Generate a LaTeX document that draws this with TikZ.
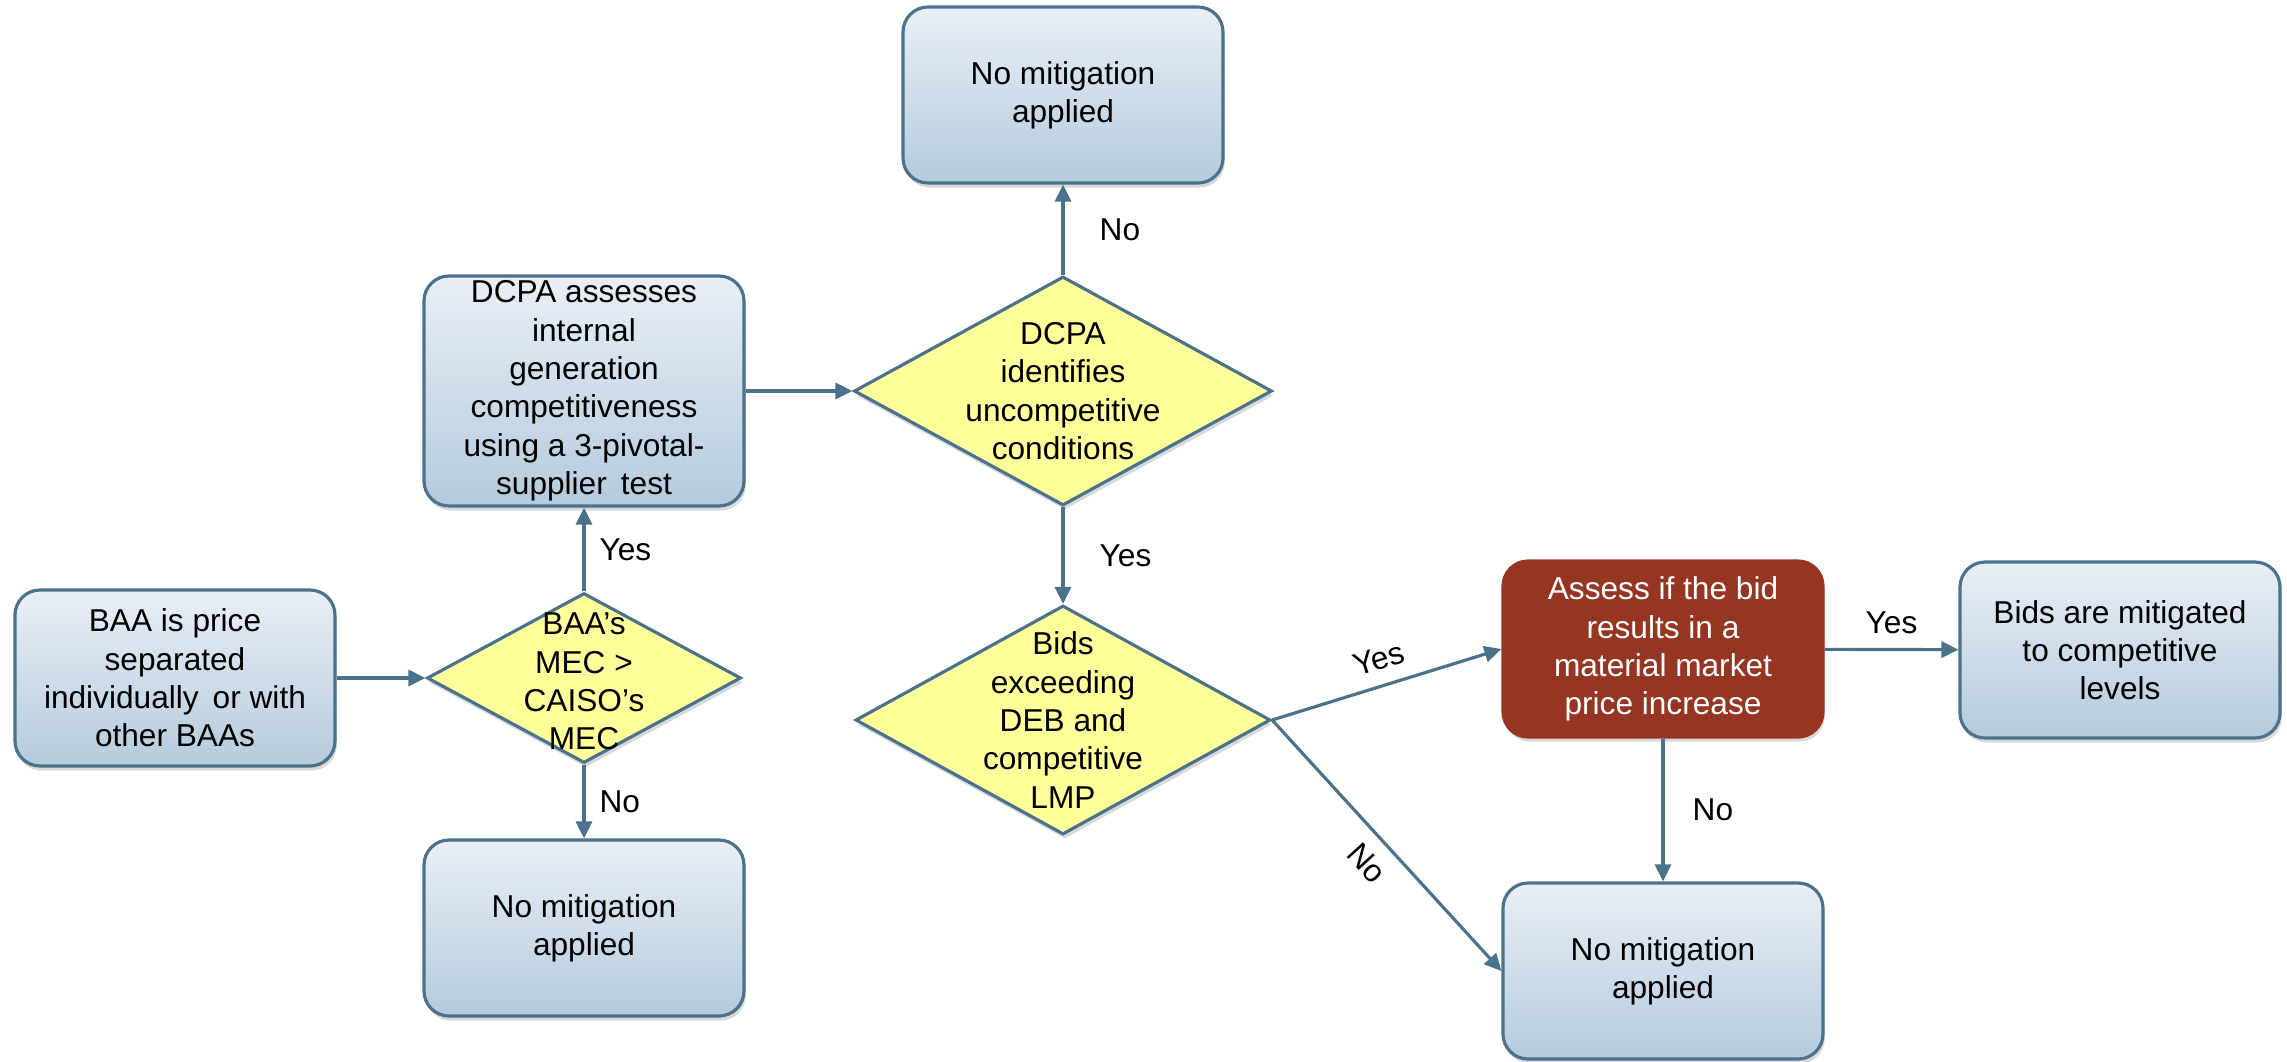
\documentclass[tikz,border=0pt]{standalone}
\usepackage{fontspec}
\setmainfont{Liberation Sans}
\usetikzlibrary{shapes.geometric,arrows.meta,shadows}

\definecolor{edge}{RGB}{74,114,140}
\definecolor{boxtop}{RGB}{234,239,246}
\definecolor{boxbot}{RGB}{180,203,221}
\definecolor{decfill}{RGB}{255,255,153}
\definecolor{assessred}{RGB}{149,53,34}

\begin{document}
\begin{tikzpicture}[
        font=\fontsize{9}{10.9}\selectfont,
        shade/.style={drop shadow={shadow xshift=0.5pt, shadow yshift=-1.3pt, opacity=0.3}},
        box/.style={draw=edge, line width=0.9pt, rounded corners=0.25cm, top color=boxtop, bottom color=boxbot,
            minimum width=3.2cm, minimum height=1.76cm, inner sep=0pt, align=center, shade},
        redbox/.style={box, top color=assessred, bottom color=assessred, draw=assessred, text=white},
        decision/.style={draw=edge, line width=0.9pt, shape=diamond, fill=decfill, inner sep=0pt, shade},
        dtext/.style={align=center, inner sep=0pt},
        flow/.style={draw=edge, line width=0.9pt, -{Triangle[length=0.17cm,width=0.16cm]}},
        lbl/.style={inner sep=4pt}
    ]
        \useasboundingbox (0,0) rectangle (22.87,10.61);

        \node[box] (baa) at (1.75,3.83) {BAA is price\\separated\\individually\, or with\\other BAAs};
        \node[decision, minimum width=3.14cm, minimum height=1.70cm] (mec) at (5.84,3.83) {};
        \node[dtext] (mect) at ([yshift=-1pt]mec) {BAA’s\\MEC >\\CAISO’s\\MEC};
        \node[box, minimum height=2.30cm] (dcpa) at (5.84,6.70) {DCPA assesses\\internal\\generation\\competitiveness\\using a 3-pivotal-\\supplier\, test};
        \node[box] (nomita) at (5.84,1.33) {No mitigation\\applied};

        \node[decision, minimum width=4.18cm, minimum height=2.29cm] (ident) at (10.63,6.70) {};
        \node[dtext] (identt) at (ident) {DCPA\\identifies\\uncompetitive\\conditions};
        \node[box] (nomitb) at (10.63,9.66) {No mitigation\\applied};
        \node[decision, minimum width=4.15cm, minimum height=2.29cm] (bids) at (10.63,3.41) {};
        \node[dtext] (bidst) at (bids) {Bids\\exceeding\\DEB and\\competitive\\LMP};

        \node[redbox] (assess) at (16.63,4.12) {Assess if the bid\\results in a\\material market\\price increase};
        \node[box] (mitig) at (21.20,4.11) {Bids are mitigated\\to competitive\\levels};
        \node[box] (nomitc) at (16.63,0.90) {No mitigation\\applied};

        \draw[flow] (baa) -- (mec);
        \draw[flow] (mec) -- node[lbl, right] {Yes} (dcpa);
        \draw[flow] (mec) -- node[lbl, right] {No} (nomita);
        \draw[flow] (dcpa) -- (ident);
        \draw[flow] (ident) -- node[lbl, right, xshift=6pt] {No} (nomitb);
        \draw[flow] (ident) -- node[lbl, right, xshift=6pt] {Yes} (bids);
        \draw[flow] (bids.east) -- node[lbl, above, sloped] {Yes} (assess.west);
        \draw[flow] (bids.east) -- node[lbl, below, sloped] {No} (nomitc.west);
        \draw[flow] (assess) -- node[lbl, above] {Yes} (mitig);
        \draw[flow] (assess) -- node[lbl, right, xshift=4pt] {No} (nomitc);
    \end{tikzpicture}
\end{document}
